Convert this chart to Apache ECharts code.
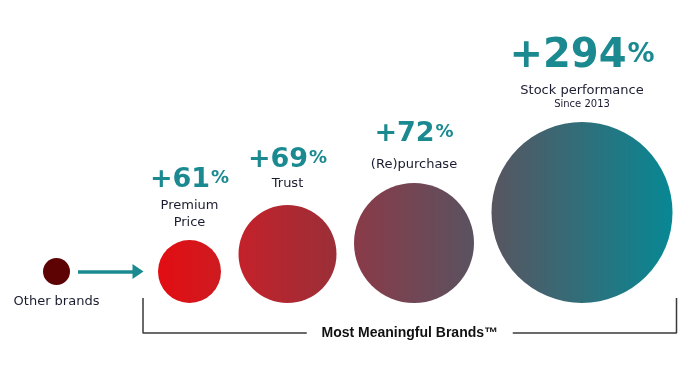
<!DOCTYPE html>
<html>
<head>
<meta charset="utf-8">
<script src="https://cdn.jsdelivr.net/npm/echarts@6/dist/echarts.min.js"></script>
<style>
html,body{margin:0;padding:0;background:#ffffff;}
#chart{width:700px;height:383px;}
</style>
</head>
<body>
<div id="chart"></div>
<script>
// ---- data ----
const categories = ['Other brands', 'Premium\nPrice', 'Trust', '(Re)purchase', 'Stock performance'];
const uplifts = [null, 61, 69, 72, 294];
const subNotes = ['', '', '', '', 'Since 2013'];
const groupLabel = 'Most Meaningful Brands\u2122';

// ---- styles / layout ----
const DIAM = [27, 63, 98, 120, 181];
const GAPS = [88, 17.5, 17.5, 17.5];
const START_X = 43;
const BASE_Y = 303;
const TEAL = '#1b8a90';
const NAVY = '#1c1c30';
const GRADS = [
  ['#5e0303', '#5e0303'],
  ['#e30d12', '#cd1b20'],
  ['#c4212a', '#9a2f38'],
  ['#8a3a48', '#5a5260'],
  ['#585560', '#078894']
];
const LABEL_DIST = [8, 9, 13, 9.5, 12];
const NUM_LH = [0, 35, 31, 45, 51];
const NUM_FS = [0, 27, 27, 27, 40];

// layout derived from sizes
const lefts = [];
let xCur = START_X;
DIAM.forEach((d, i) => { lefts.push(xCur); xCur += d + (GAPS[i] || 0); });
const centers = DIAM.map((d, i) => lefts[i] + d / 2);

const points = categories.map((c, i) => {
  const d = DIAM[i];
  const offY = i === 0 ? -DIAM[1] / 2 : -d / 2;
  let text;
  if (uplifts[i] == null) {
    text = '{o|' + c + '}';
  } else {
    const lines = ['{v|+' + uplifts[i] + '}{p|%}'];
    c.split('\n').forEach(l => lines.push('{t|' + l + '}'));
    if (subNotes[i]) lines.push('{s|' + subNotes[i] + '}');
    text = lines.join('\n');
  }
  const fs = NUM_FS[i] || 27;
  const lh = NUM_LH[i] || 30;
  const padTop = Math.round((lh - fs) / 2 + fs * 0.12);
  const rich = {
    v: {fontFamily: 'DejaVu Sans', fontWeight: 'bold', fontSize: fs, color: TEAL, lineHeight: lh},
    p: {fontFamily: 'DejaVu Sans', fontWeight: 'bold', fontSize: Math.round(fs * 0.68), color: TEAL,
        verticalAlign: 'top', padding: [padTop, 0, 0, 1]},
    t: {fontFamily: 'DejaVu Sans', fontSize: 13, color: NAVY, lineHeight: 17},
    s: {fontFamily: 'DejaVu Sans', fontSize: 10, color: NAVY, lineHeight: 11},
    o: {fontFamily: 'DejaVu Sans', fontSize: 13, color: NAVY, lineHeight: 17}
  };
  return {
    name: c,
    value: [centers[i], BASE_Y],
    symbolSize: d,
    symbolOffset: [0, offY],
    itemStyle: {
      opacity: 1,
      color: {type: 'linear', x: 0, y: 0, x2: 1, y2: 0,
        colorStops: [{offset: 0, color: GRADS[i][0]}, {offset: 1, color: GRADS[i][1]}]}
    },
    label: {
      show: true,
      position: i === 0 ? 'bottom' : 'top',
      distance: LABEL_DIST[i],
      align: 'center',
      opacity: 1,
      formatter: text,
      rich: rich
    }
  };
});

// arrow & bracket geometry from layout
const arrowY = BASE_Y - DIAM[1] / 2;
const arrowStart = lefts[0] + DIAM[0] + 8;
const arrowTip = lefts[1] - 15;
const brL = lefts[1] - 15;
const brR = lefts[4] + DIAM[4] + 4;
const brTop = BASE_Y - 5;
const brBot = BASE_Y + 30;
const brMid = (brL + brR) / 2;
const gapHalf = 103;

const option = {
  animation: false,
  grid: {left: 0, right: 0, top: 0, bottom: 0},
  xAxis: {type: 'value', min: 0, max: 700, show: false},
  yAxis: {type: 'value', min: 0, max: 383, inverse: true, show: false},
  series: [
    {
      type: 'scatter',
      symbol: 'circle',
      data: points,
      silent: true,
      itemStyle: {opacity: 1},
      markLine: {
        silent: true,
        symbol: ['none', 'triangle'],
        symbolSize: [15, 11],
        label: {show: false},
        lineStyle: {color: TEAL, width: 3.5, type: 'solid', opacity: 1},
        data: [[{coord: [arrowStart, arrowY]}, {coord: [arrowTip - 5, arrowY]}]]
      }
    },
    {
      type: 'line', symbol: 'none', silent: true,
      lineStyle: {color: '#3a3a3a', width: 1.5},
      data: [[brL, brTop], [brL, brBot], [brMid - gapHalf, brBot]]
    },
    {
      type: 'line', symbol: 'none', silent: true,
      lineStyle: {color: '#3a3a3a', width: 1.5},
      data: [[brMid + gapHalf, brBot], [brR, brBot], [brR, brTop]]
    }
  ],
  graphic: [{
    type: 'text',
    x: brMid, y: brBot,
    style: {
      text: groupLabel,
      fontFamily: 'Liberation Sans', fontWeight: 'bold', fontSize: 14,
      fill: '#111111', textAlign: 'center', textVerticalAlign: 'middle'
    }
  }]
};

const chart = echarts.init(document.getElementById('chart'), null, {renderer: 'canvas'});
chart.setOption(option);
</script>
</body>
</html>
